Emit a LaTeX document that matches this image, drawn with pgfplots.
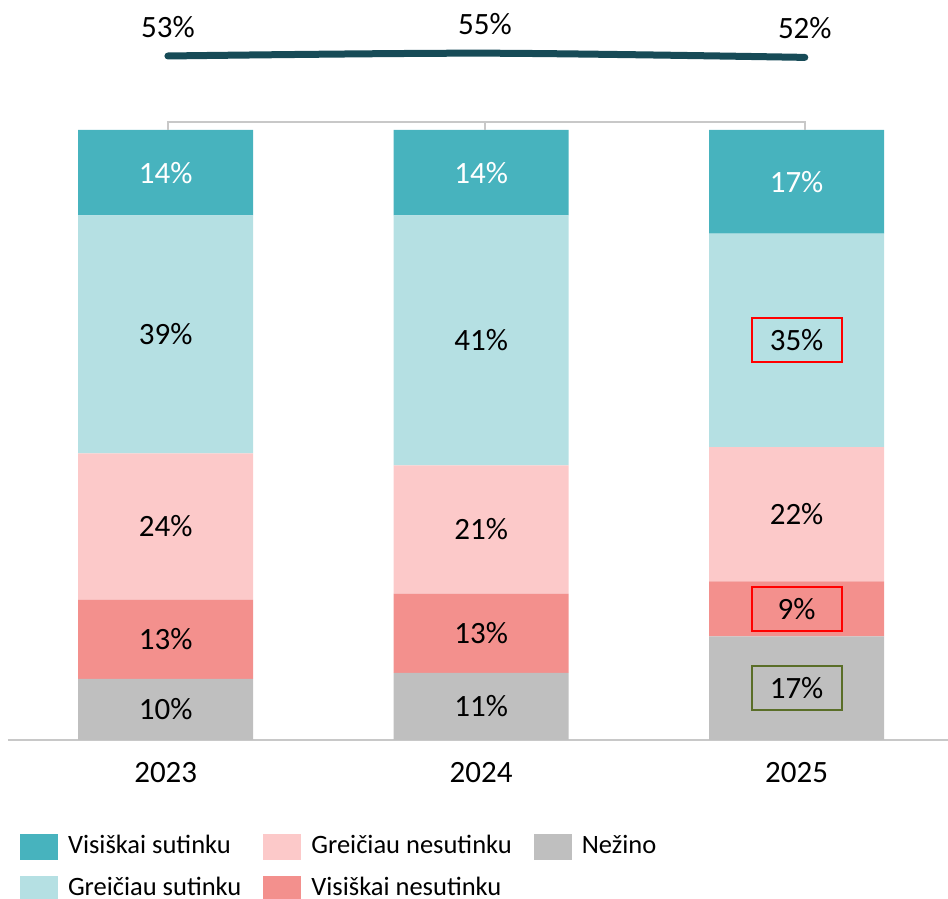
\documentclass[border=0pt]{standalone}
\usepackage{pgfplots}
\pgfplotsset{compat=1.18}
\usepackage{pgfplotstable}
\usepackage{fontspec}
\setmainfont{Carlito}
\definecolor{cVS}{HTML}{47B3BE}
\definecolor{cGS}{HTML}{B5E0E3}
\definecolor{cGN}{HTML}{FCC9C9}
\definecolor{cVN}{HTML}{F3908D}
\definecolor{cNZ}{HTML}{BFBFBF}
\definecolor{cLine}{HTML}{174B57}
\definecolor{boxred}{HTML}{FF0000}
\definecolor{boxolive}{HTML}{5A6E28}
\definecolor{cAxis}{HTML}{C8C8C8}

\pgfplotstableread{
x  nz  vn  gn  gs  vs
0  10  13  24  39  14
1  11  13  21  41  14
2  17  9   22  35  17
}\bars
% label positions: middle of each stacked segment, computed from the data
\pgfplotstablecreatecol[create col/expr={\thisrow{nz}/2}]{mnz}{\bars}
\pgfplotstablecreatecol[create col/expr={\thisrow{nz}+\thisrow{vn}/2}]{mvn}{\bars}
\pgfplotstablecreatecol[create col/expr={\thisrow{nz}+\thisrow{vn}+\thisrow{gn}/2}]{mgn}{\bars}
\pgfplotstablecreatecol[create col/expr={\thisrow{nz}+\thisrow{vn}+\thisrow{gn}+\thisrow{gs}/2}]{mgs}{\bars}
\pgfplotstablecreatecol[create col/expr={\thisrow{nz}+\thisrow{vn}+\thisrow{gn}+\thisrow{gs}+\thisrow{vs}/2}]{mvs}{\bars}

\pgfplotstableread{
x      agree
0.007  53
1.012  55
2.026  52
}\agree

\newcommand{\lblfont}{\fontsize{15.5pt}{18pt}\selectfont}

\pgfplotsset{
  commonx/.style={at={(4pt,79.5pt)}, anchor=south west,
    scale only axis, width=470pt, height=305pt,
    xmin=-0.5, xmax=2.48, ymin=0, ymax=100, enlargelimits=false, clip=false},
  lbl/.style={only marks, mark=none, point meta=explicit symbolic,
    nodes near coords={\pgfplotspointmeta\%},
    every node near coord/.append style={anchor=center, font=\lblfont, text=#1}},
  box/.style={only marks, mark=none, restrict x to domain=1.5:2.5,
    nodes near coords={},
    every node near coord/.append style={anchor=center, draw=#1, line width=1pt,
      minimum width=45pt, minimum height=22pt}},
}

\begin{document}
\begin{tikzpicture}
\path[use as bounding box] (0,0) rectangle (474pt,449.5pt);
% bars
\begin{axis}[commonx,
  ybar stacked, bar width=87.5pt,
  axis x line*=bottom, axis y line=none, ytick=\empty,
  x axis line style={draw=cAxis, line width=0.75pt},
  xtick={0,1,2}, xticklabels={2023,2024,2025},
  major tick length=0pt,
  xticklabel style={font=\lblfont, yshift=-7.5pt},
]
\addplot[fill=cNZ, draw=none] table[x=x,y=nz]{\bars};
\addplot[fill=cVN, draw=none] table[x=x,y=vn]{\bars};
\addplot[fill=cGN, draw=none] table[x=x,y=gn]{\bars};
\addplot[fill=cGS, draw=none] table[x=x,y=gs]{\bars};
\addplot[fill=cVS, draw=none] table[x=x,y=vs]{\bars};
\end{axis}
% segment labels
\begin{axis}[commonx, hide axis]
\addplot[lbl=black] table[x=x,y=mnz,meta=nz]{\bars};
\addplot[lbl=black] table[x=x,y=mvn,meta=vn]{\bars};
\addplot[lbl=black] table[x=x,y=mgn,meta=gn]{\bars};
\addplot[lbl=black] table[x=x,y=mgs,meta=gs]{\bars};
\addplot[lbl=white] table[x=x,y=mvs,meta=vs]{\bars};
\addplot[box=boxolive] table[x=x,y=mnz]{\bars};
\addplot[box=boxred] table[x=x,y=mvn]{\bars};
\addplot[box=boxred] table[x=x,y=mgs]{\bars};
\end{axis}
% agreement line
\begin{axis}[
  at={(4pt,384.4pt)}, anchor=south west,
  scale only axis, width=470pt, height=70pt,
  xmin=-0.5, xmax=2.48, ymin=0, ymax=100,
  hide axis, clip=false,
  /pgf/number format/assume math mode=true,
]
\addplot[cAxis, line width=0.75pt] coordinates {(0.007,0) (0.007,5.9) (2.026,5.9) (2.026,0)};
\addplot[cAxis, line width=0.75pt] coordinates {(1.012,5.9) (1.012,0)};
\addplot[cLine, line width=3.5pt, smooth, line cap=round,
  nodes near coords={\pgfmathprintnumber{\pgfplotspointmeta}\%},
  every node near coord/.append style={anchor=south, yshift=4pt, font=\lblfont, text=black}]
  table[x=x,y=agree]{\agree};
\end{axis}
% legend
\begin{axis}[
  at={(4pt,79.5pt)}, anchor=south west,
  scale only axis, width=470pt, height=305pt,
  hide axis, xmin=0, xmax=1, ymin=0, ymax=1,
  legend columns=3,
  legend image code/.code={\fill[#1] (0pt,-6.5pt) rectangle (19pt,6.5pt);},
  legend style={at={(0.01277,-0.1549)}, anchor=north west, draw=none, fill=none,
     inner sep=0pt, outer sep=0pt,
     font=\fontsize{13.25pt}{15pt}\selectfont,
     cells={anchor=west},
     nodes={inner sep=0pt, text height=9pt, text depth=2.5pt},
     row sep=8pt, column sep=5pt,
     /tikz/every even column/.append style={column sep=11pt}},
]
\addlegendimage{fill=cVS, draw=none}\addlegendentry{Visiškai sutinku}
\addlegendimage{fill=cGN, draw=none}\addlegendentry{Greičiau nesutinku}
\addlegendimage{fill=cNZ, draw=none}\addlegendentry{Nežino}
\addlegendimage{fill=cGS, draw=none}\addlegendentry{Greičiau sutinku}
\addlegendimage{fill=cVN, draw=none}\addlegendentry{Visiškai nesutinku}
\end{axis}
\end{tikzpicture}
\end{document}
